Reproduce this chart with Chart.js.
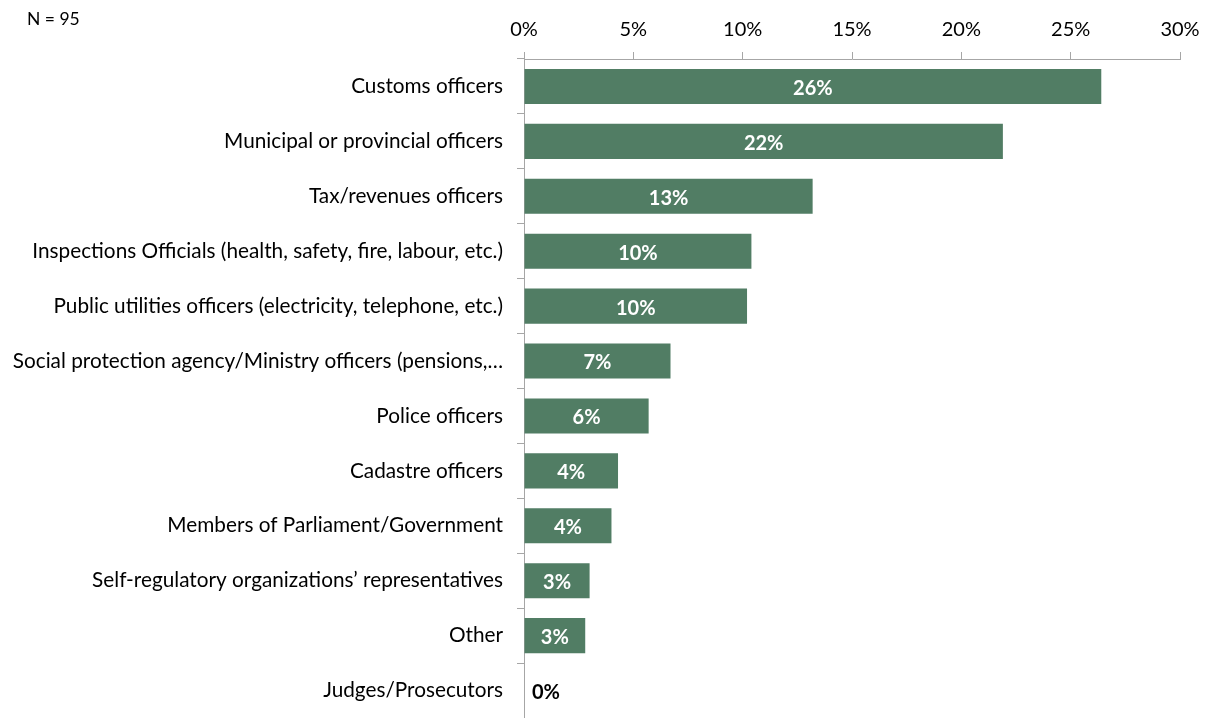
<!DOCTYPE html>
<html>
<head>
<meta charset="utf-8">
<script src="https://cdn.jsdelivr.net/npm/chart.js@4"></script>
<style>
  html, body { margin: 0; padding: 0; background: #fff; }
  #wrap { width: 1216px; height: 718px; position: relative; }
</style>
</head>
<body>
<div id="wrap"><canvas id="myChart"></canvas></div>
<script>
var categories = [
  "Customs officers",
  "Municipal or provincial officers",
  "Tax/revenues officers",
  "Inspections Officials (health, safety, fire, labour, etc.)",
  "Public utilities officers (electricity, telephone, etc.)",
  "Social protection agency/Ministry officers (pensions,\u2026",
  "Police officers",
  "Cadastre officers",
  "Members of Parliament/Government",
  "Self-regulatory organizations\u2019 representatives",
  "Other",
  "Judges/Prosecutors"
];
var shares = [26.4, 21.9, 13.2, 10.4, 10.2, 6.7, 5.7, 4.3, 4.0, 3.0, 2.8, 0];
var tickValues = [0, 5, 10, 15, 20, 25, 30];

var FONT = "Lato, 'Open Sans', sans-serif";
var axisGrey = "#a6a6a6";

// value labels inside the bars, zero drawn in black beside the axis
var barLabels = {
  id: "barLabels",
  afterDatasetsDraw: function (chart) {
    var ctx = chart.ctx;
    var meta = chart.getDatasetMeta(0);
    ctx.save();
    ctx.font = "bold 20px " + FONT;
    ctx.textBaseline = "middle";
    meta.data.forEach(function (bar, i) {
      var v = shares[i];
      var txt = Math.round(v) + "%";
      if (v === 0) {
        ctx.fillStyle = "#000";
        ctx.textAlign = "left";
        ctx.fillText(txt, bar.base + 8, bar.y + 2);
      } else {
        ctx.fillStyle = "#fff";
        ctx.textAlign = "center";
        ctx.fillText(txt, (bar.base + bar.x) / 2, bar.y + 2);
      }
    });
    ctx.restore();
  }
};

var sampleNote = {
  id: "sampleNote",
  afterDraw: function (chart) {
    var ctx = chart.ctx;
    ctx.save();
    ctx.font = "17.5px " + FONT;
    ctx.fillStyle = "#000";
    ctx.textBaseline = "middle";
    ctx.fillText("N = 95", 27, 19);
    ctx.restore();
  }
};

var ctxB = document.getElementById("myChart").getContext("2d");
var myBarChart = new Chart(ctxB, {
  type: "bar",
  plugins: [barLabels, sampleNote],
  data: {
    labels: categories,
    datasets: [
      {
        data: shares,
        backgroundColor: "#517d64",
        barPercentage: 0.64,
        categoryPercentage: 1.0
      }
    ]
  },
  options: {
    indexAxis: "y",
    responsive: true,
    maintainAspectRatio: false,
    animation: false,
    layout: { padding: { top: 0, right: 36, bottom: 0, left: 0 } },
    plugins: {
      legend: { display: false },
      tooltip: { enabled: false }
    },
    scales: {
      x: {
        position: "top",
        min: 0,
        max: 30,
        afterBuildTicks: function (scale) {
          scale.ticks = tickValues.map(function (v) { return { value: v }; });
        },
        afterFit: function (scale) {
          scale.height = 59;
          scale.paddingLeft = 0;
          scale.paddingRight = 0;
        },
        border: { color: axisGrey },
        grid: { drawOnChartArea: false, tickLength: 7, color: axisGrey },
        ticks: {
          padding: 10,
          color: "#000",
          font: { family: FONT, size: 20 },
          callback: function (v) { return v + "%"; }
        }
      },
      y: {
        afterFit: function (scale) {
          scale.width = 524;
          scale.paddingTop = 0;
          scale.paddingBottom = 0;
        },
        border: { color: axisGrey },
        grid: { drawOnChartArea: false, offset: true, tickLength: 7, color: axisGrey },
        ticks: {
          padding: 14,
          color: "#000",
          font: { family: FONT, size: 20.75 }
        }
      }
    }
  }
});
</script>
</body>
</html>
